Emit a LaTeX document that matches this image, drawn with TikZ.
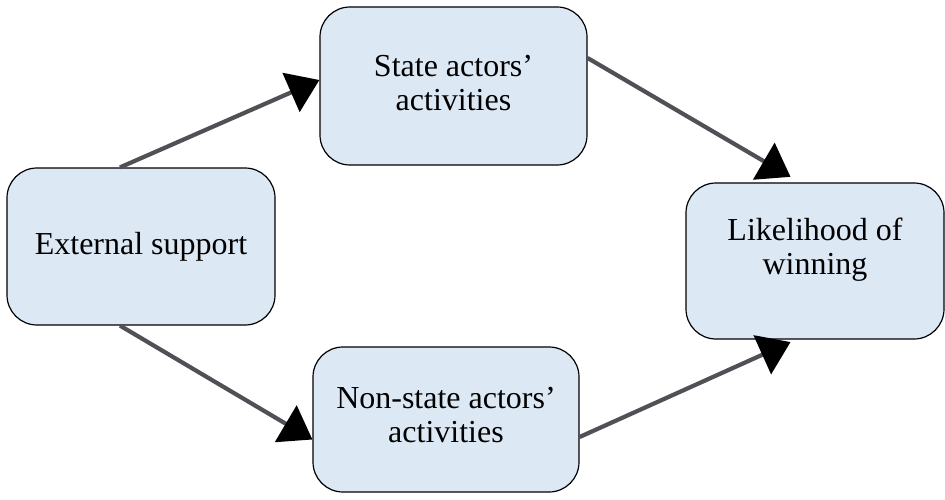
\documentclass[tikz,border=0pt]{standalone}
\usepackage{fontspec}
\setmainfont{Liberation Serif}
\usepackage{tikz}
\usetikzlibrary{arrows.meta}
\definecolor{boxblue}{RGB}{221,232,245}
\definecolor{linkgray}{RGB}{80,81,86}

\begin{document}
\begin{tikzpicture}[x=1pt,y=-1pt,
    factor/.style={draw,line width=1.2pt,fill=boxblue,rounded corners=30pt,align=center,
      font=\fontsize{32}{34}\selectfont},
    link/.style={draw=linkgray,line width=4.2pt,-{Triangle[length=31pt,width=42pt,black]}}]
        \useasboundingbox (0,0) rectangle (945,500);
        \node[factor,minimum width=268pt,minimum height=157pt] (ext) at (141,246.5) {External support};
        \node[factor,minimum width=267pt,minimum height=158pt,text depth=6pt] (state) at (453.5,86) {State actors'\\activities};
        \node[factor,minimum width=266pt,minimum height=145pt,text depth=10pt] (nonstate) at (446,419.5) {Non-state actors'\\activities};
        \node[factor,minimum width=258pt,minimum height=156pt,text depth=30pt] (win) at (815,261) {Likelihood of\\winning};
        \draw[link] ([xshift=-21pt]ext.north) -- ([yshift=6pt]state.west);
        \draw[link] ([xshift=-21pt]ext.south) -- ([yshift=-20pt]nonstate.west);
        \draw[link,shorten >=11pt] ([yshift=28pt]state.east) -- ([xshift=-15pt]win.north);
        \draw[link,shorten >=6pt] ([yshift=-17.5pt]nonstate.east) -- ([xshift=-19pt]win.south);
\end{tikzpicture}
\end{document}
